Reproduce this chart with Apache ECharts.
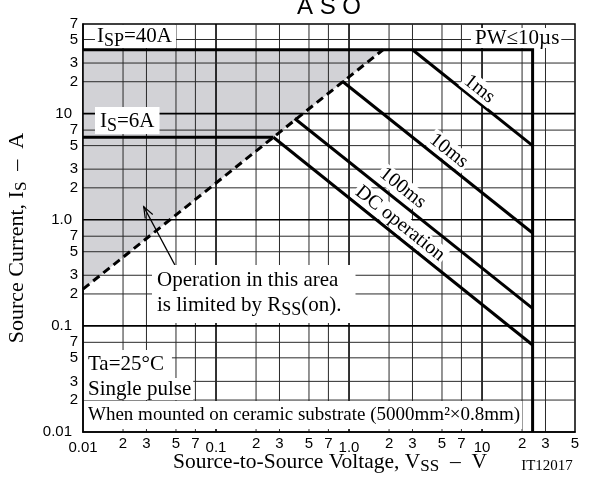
<!DOCTYPE html>
<html><head><meta charset="utf-8">
<script src="https://cdn.jsdelivr.net/npm/echarts@6/dist/echarts.min.js"></script>
<style>html,body{margin:0;padding:0;background:#fff}#c{width:596px;height:484px}</style>
</head><body><div id="c"></div>
<script>
// ---- tick values / labels ----
const xTickValues = [0.01,0.02,0.03,0.05,0.07,0.1,0.2,0.3,0.5,0.7,1,2,3,5,7,10,20,30,50];
const xTickLabels = ['0.01','2','3','5','7','0.1','2','3','5','7','1.0','2','3','5','7','10','2','3','5'];
const yTickValues = [0.01,0.02,0.03,0.05,0.07,0.1,0.2,0.3,0.5,0.7,1,2,3,5,7,10,20,30,50,70];
const yTickLabels = ['0.01','2','3','5','7','0.1','2','3','5','7','1.0','2','3','5','7','10','2','3','5','7'];
const decades = [0.01,0.1,1,10];

// ---- curves: source-to-source voltage V, source current A ----
const pw10usV = [0.01, 24, 24];   const pw10usI = [40, 40, 0.01];
const is6aV = [0.01, 0.27];       const is6aI = [6, 6];
const dcV = [0.27, 24];           const dcI = [6, 0.066];
const ms100V = [0.39, 24];        const ms100I = [9.0, 0.146];
const ms10V = [0.89, 24];         const ms10I = [20.2, 0.75];
const ms1V = [3, 24];             const ms1I = [40, 5];
const rssV = [0.01, 1.8];         const rssI = [0.222, 40];
const shadeV = [0.01, 1.8, 0.01]; const shadeI = [40, 40, 0.222];
// arrow (tip, tail) in data space
const arrowV = [0.0286, 0.049];   const arrowI = [1.33, 0.376];

const X_MIN = 0.01, X_MAX = 50, Y_MIN = 0.01, Y_MAX = 70;
const SERIF = '"Liberation Serif", "Times New Roman", serif';
const SANS = '"Liberation Sans", Arial, sans-serif';

const zip = (a, b) => a.map((v, i) => [v, b[i]]);
function curve(V, I, dashed) {
  return { type: 'line', data: zip(V, I), symbol: 'none', silent: true, animation: false, z: 5, clip: false,
    lineStyle: { color: '#000', width: 3, type: dashed ? [8, 5] : 'solid', cap: 'butt', join: 'miter' } };
}
const xGrid = xTickValues.filter(v => v > X_MIN && v < X_MAX);
const yGrid = yTickValues.filter(v => v > Y_MIN && v < Y_MAX);

const chart = echarts.init(document.getElementById('c'));
chart.setOption({
  animation: false,
  backgroundColor: '#fff',
  grid: { left: 83, right: 21, top: 24, bottom: 52, show: true, borderColor: '#000', borderWidth: 1.5, backgroundColor: 'transparent' },
  xAxis: { type: 'log', logBase: 10, min: X_MIN, max: X_MAX, z: 10,
    axisLine: { show: true, lineStyle: { color: '#000', width: 1.5 } },
    axisTick: { show: false }, axisLabel: { show: false }, splitLine: { show: false } },
  yAxis: { type: 'log', logBase: 10, min: Y_MIN, max: Y_MAX, z: 10,
    axisLine: { show: true, lineStyle: { color: '#000', width: 1.5 } },
    axisTick: { show: false }, axisLabel: { show: false }, splitLine: { show: false } },
  series: [
    { type: 'custom', z: 1, silent: true, clip: false, data: [[1, 1]],
      renderItem: (p, api) => ({ type: 'polygon',
        shape: { points: shadeV.map((v, i) => api.coord([v, shadeI[i]])) },
        style: { fill: '#d2d2d6' } }) },
    { type: 'custom', z: 2, silent: true, clip: false, data: xGrid.map(v => [v, 1]),
      renderItem: (p, api) => { const v = api.value(0); const a = api.coord([v, Y_MIN]), b = api.coord([v, Y_MAX]);
        const major = decades.includes(v);
        return { type: 'line', shape: { x1: a[0], y1: a[1], x2: b[0], y2: b[1] }, style: { stroke: major ? '#000' : '#2a2a2a', lineWidth: major ? 1.6 : 1 } }; } },
    { type: 'custom', z: 2, silent: true, clip: false, data: yGrid.map(v => [1, v]),
      renderItem: (p, api) => { const v = api.value(1); const a = api.coord([X_MIN, v]), b = api.coord([X_MAX, v]);
        const major = decades.includes(v);
        return { type: 'line', shape: { x1: a[0], y1: a[1], x2: b[0], y2: b[1] }, style: { stroke: major ? '#000' : '#2a2a2a', lineWidth: major ? 1.6 : 1 } }; } },
    curve(pw10usV, pw10usI), curve(is6aV, is6aI), curve(dcV, dcI), curve(ms100V, ms100I),
    curve(ms10V, ms10I), curve(ms1V, ms1I), curve(rssV, rssI, true)
  ]
});

const px = (x, y) => chart.convertToPixel({ gridIndex: 0 }, [x, y]);
const g = [];
function text(x, y, str, style, el) {
  g.push(Object.assign({ type: 'text', x, y, z: 100, silent: true,
    style: Object.assign({ text: str, fill: '#000', fontFamily: SERIF, fontSize: 21, align: 'left', verticalAlign: 'top' }, style) }, el || {}));
}
// subscript token: fs = font size, lh = main line height, shift = downward offset of centre
const sub = (fs, lh, shift) => ({ s: { fontSize: fs, lineHeight: 4, verticalAlign: 'top',
  padding: [Math.max(0, lh / 2 + shift - fs / 2), 0, 0, 0], fontFamily: SERIF, fill: '#000' } });

// tick labels
xTickValues.forEach((v, i) => {
  const p = px(v, Y_MIN); const major = decades.includes(v);
  text(p[0], p[1] + (major ? 15.5 : 11.5), xTickLabels[i], { fontFamily: SANS, fontSize: 15, align: 'center', verticalAlign: 'middle' });
});
yTickValues.forEach((v, i) => {
  const p = px(X_MIN, v); const major = decades.includes(v);
  text(p[0] - (major ? 11 : 5), p[1], yTickLabels[i], { fontFamily: SANS, fontSize: 15, align: 'right', verticalAlign: 'middle' });
});

// title & axis titles
text(329, 7, 'A S O', { fontFamily: SANS, fontSize: 24, align: 'center', verticalAlign: 'middle' });
text(330, 462, 'Source-to-Source Voltage, V{s|SS}  –  V', { fontSize: 21.5, lineHeight: 22, align: 'center', verticalAlign: 'middle', rich: sub(17, 22, 4.5) });
text(547, 466, 'IT12017', { fontSize: 15, align: 'center', verticalAlign: 'middle' });
text(17, 238, 'Source Current, I{s|S}  –  A', { fontSize: 22, lineHeight: 22, align: 'center', verticalAlign: 'middle', rich: sub(17, 22, 4.5) }, { rotation: Math.PI / 2 });

// boxed annotations
const box = { backgroundColor: '#fff' };
text(95, 25, 'I{s|SP}=40A', Object.assign({ lineHeight: 22, padding: [0, 4, 1, 2], rich: sub(18, 22, 5) }, box));
text(471, 28, 'PW≤10µs', Object.assign({ lineHeight: 20, padding: [0, 2, 0, 4] }, box));
text(95, 107, 'I{s|S}=6A', Object.assign({ lineHeight: 22, padding: [3, 5, 2, 5], rich: sub(18, 22, 5) }, box));
text(152, 265, 'Operation in this area\nis limited by R{s|SS}(on).', Object.assign({ lineHeight: 25, padding: [3, 14, 5, 5], rich: sub(18, 25, 5) }, box));
text(84, 350, 'Ta=25°C', Object.assign({ lineHeight: 24, padding: [2, 8, 2, 4] }, box));
text(84, 378, 'Single pulse', Object.assign({ lineHeight: 22, padding: [0, 2, 0, 4] }, box));
text(84, 401, 'When mounted on ceramic substrate (5000mm²×0.8mm)', Object.assign({ fontSize: 19, lineHeight: 28, padding: [0, 2, 0, 4] }, box));

// labels along the lines
function lineLabel(V, I, t, d, str) {
  const a = px(V[0], I[0]), b = px(V[V.length - 1], I[I.length - 1]);
  const th = Math.atan2(b[1] - a[1], b[0] - a[0]);
  const cx = a[0] + t * (b[0] - a[0]) + d * Math.sin(th);
  const cy = a[1] + t * (b[1] - a[1]) - d * Math.cos(th);
  text(cx, cy, str, { fontSize: 20, align: 'center', verticalAlign: 'middle', backgroundColor: '#fff', padding: [0, 2] }, { rotation: -th });
}
lineLabel(ms1V, ms1I, 0.5, 11, '1ms');
lineLabel(ms10V, ms10I, 0.52, 12, '10ms');
lineLabel(ms100V, ms100I, 0.42, 13, '100ms');
lineLabel(dcV, dcI, 0.46, 12, 'DC operation');

// arrow
const tip = px(arrowV[0], arrowI[0]), tail = px(arrowV[1], arrowI[1]);
const ang = Math.atan2(tail[1] - tip[1], tail[0] - tip[0]);
const L = 12, w = 0.36;
g.push({ type: 'line', z: 99, silent: true, shape: { x1: tail[0], y1: tail[1], x2: tip[0], y2: tip[1] }, style: { stroke: '#000', lineWidth: 1.2 } });
g.push({ type: 'polyline', z: 99, silent: true, shape: { points: [
  [tip[0] + L * Math.cos(ang - w), tip[1] + L * Math.sin(ang - w)], tip,
  [tip[0] + L * Math.cos(ang + w), tip[1] + L * Math.sin(ang + w)]] }, style: { stroke: '#000', lineWidth: 1.2, fill: null } });

chart.setOption({ graphic: g });
</script></body></html>
